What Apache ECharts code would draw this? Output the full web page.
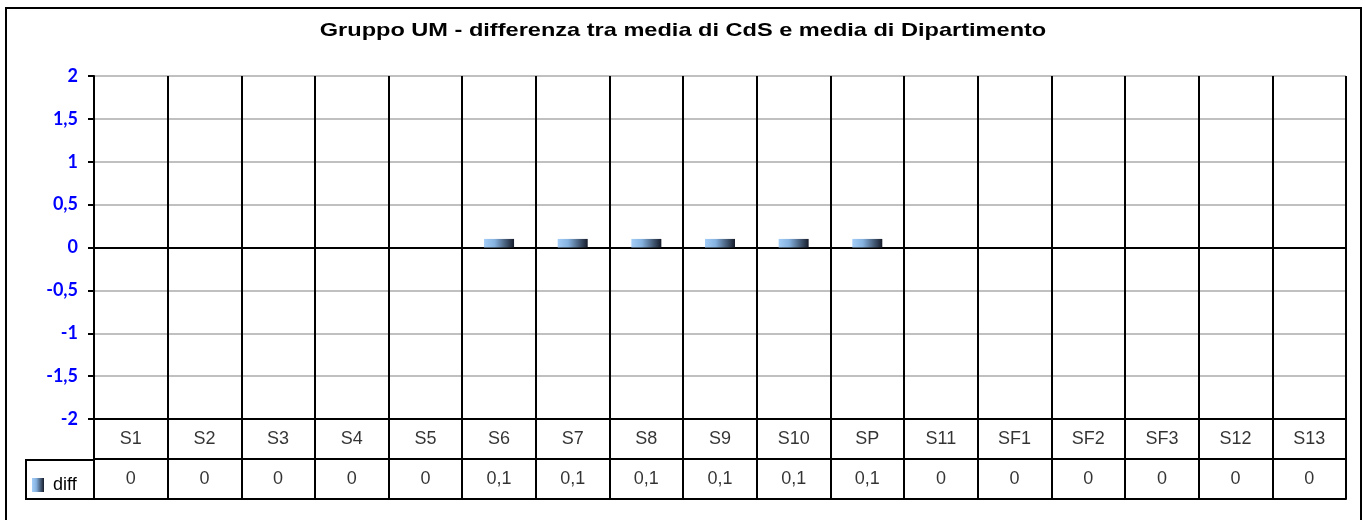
<!DOCTYPE html>
<html>
<head>
<meta charset="utf-8">
<script src="https://cdn.jsdelivr.net/npm/echarts@6/dist/echarts.min.js"></script>
<style>
  html, body { margin: 0; padding: 0; background: #fff; }
  #main { width: 1365px; height: 520px; }
</style>
</head>
<body>
<div id="main"></div>
<script>
const categories = ['S1', 'S2', 'S3', 'S4', 'S5', 'S6', 'S7', 'S8', 'S9', 'S10', 'SP', 'S11', 'SF1', 'SF2', 'SF3', 'S12', 'S13']
const diff = [0, 0, 0, 0, 0, 0.1, 0.1, 0.1, 0.1, 0.1, 0.1, 0, 0, 0, 0, 0, 0]
const yTicks = { min: -2, max: 2, step: 0.5 }
const titolo = 'Gruppo UM - differenza tra media di CdS e media di Dipartimento'

const comma = v => String(v).replace('.', ',')

// righe della tabella dati sotto il grafico
const tableCells = []
categories.forEach((c, i) => {
  tableCells.push({ value: [c, 1.5], text: c })
  tableCells.push({ value: [c, 0.5], text: comma(diff[i]) })
})

let chart = echarts.init(document.getElementById('main'))

const black = { color: '#000', width: 2 }
const barColor = new echarts.graphic.LinearGradient(0, 0, 1, 0, [
  { offset: 0, color: '#a4cef8' },
  { offset: 0.35, color: '#86b2e0' },
  { offset: 1, color: '#161c2a' }
])

let option = {
  animation: false,
  legend: {
    left: 32,
    top: 476,
    padding: 0,
    itemWidth: 12,
    itemHeight: 14,
    icon: 'rect',
    data: ['diff'],
    textStyle: { fontFamily: 'Liberation Sans', fontSize: 18, color: '#000', padding: [0, 0, 0, 4] }
  },
  grid: [
    { left: 94, right: 19, top: 76, height: 343 },
    { left: 94, right: 19, top: 419, height: 80 }
  ],
  xAxis: [
    {
      gridIndex: 0,
      type: 'category',
      data: categories,
      boundaryGap: true,
      axisLine: { onZero: true, lineStyle: black },
      axisTick: { show: false },
      axisLabel: { show: false, interval: 0 },
      splitLine: { show: true, interval: 0, lineStyle: black }
    },
    {
      gridIndex: 1,
      type: 'category',
      data: categories,
      boundaryGap: true,
      z: 5,
      axisLine: { show: true, lineStyle: black },
      axisTick: { show: false },
      axisLabel: { show: false, interval: 0 },
      splitLine: { show: true, interval: 0, lineStyle: black }
    }
  ],
  yAxis: [
    {
      gridIndex: 0,
      type: 'value',
      min: yTicks.min,
      max: yTicks.max,
      interval: yTicks.step,
      axisLine: { show: true, lineStyle: black },
      axisTick: { show: true, length: 6, lineStyle: black },
      axisLabel: {
        margin: 16,
        formatter: v => comma(v),
        color: '#0000ff',
        fontFamily: 'Lato',
        fontWeight: 'bold',
        fontSize: 18
      },
      splitLine: { show: true, lineStyle: { color: '#c0c0c0', width: 2 } }
    },
    {
      gridIndex: 1,
      type: 'value',
      min: 0,
      max: 2,
      interval: 1,
      z: 5,
      axisLine: { show: true, lineStyle: black },
      axisTick: { show: false },
      axisLabel: { show: false },
      splitLine: { show: true, lineStyle: black }
    }
  ],
  series: [
    {
      name: 'diff',
      type: 'bar',
      xAxisIndex: 0,
      yAxisIndex: 0,
      data: diff,
      barWidth: 30,
      itemStyle: { color: barColor }
    },
    {
      type: 'scatter',
      xAxisIndex: 1,
      yAxisIndex: 1,
      symbolSize: 0,
      silent: true,
      data: tableCells,
      label: {
        show: true,
        position: 'inside',
        formatter: p => p.data.text,
        fontFamily: 'Liberation Sans',
        fontSize: 18,
        color: '#000'
      }
    }
  ],
  graphic: [
    {
      // titolo un po' allargato come nell'immagine originale
      type: 'text',
      x: 683,
      y: 31,
      scaleX: 1.24,
      style: {
        text: titolo,
        textAlign: 'center',
        textVerticalAlign: 'middle',
        font: 'bold 19px "Liberation Sans"',
        fill: '#000'
      },
      silent: true
    },
    {
      type: 'rect',
      shape: { x: 6, y: 8, width: 1355, height: 540 },
      style: { fill: 'none', stroke: '#000', lineWidth: 2 },
      silent: true
    },
    {
      type: 'rect',
      shape: { x: 26, y: 460, width: 68, height: 39 },
      style: { fill: 'none', stroke: '#000', lineWidth: 2 },
      silent: true
    }
  ]
}

chart.setOption(option)
</script>
</body>
</html>
